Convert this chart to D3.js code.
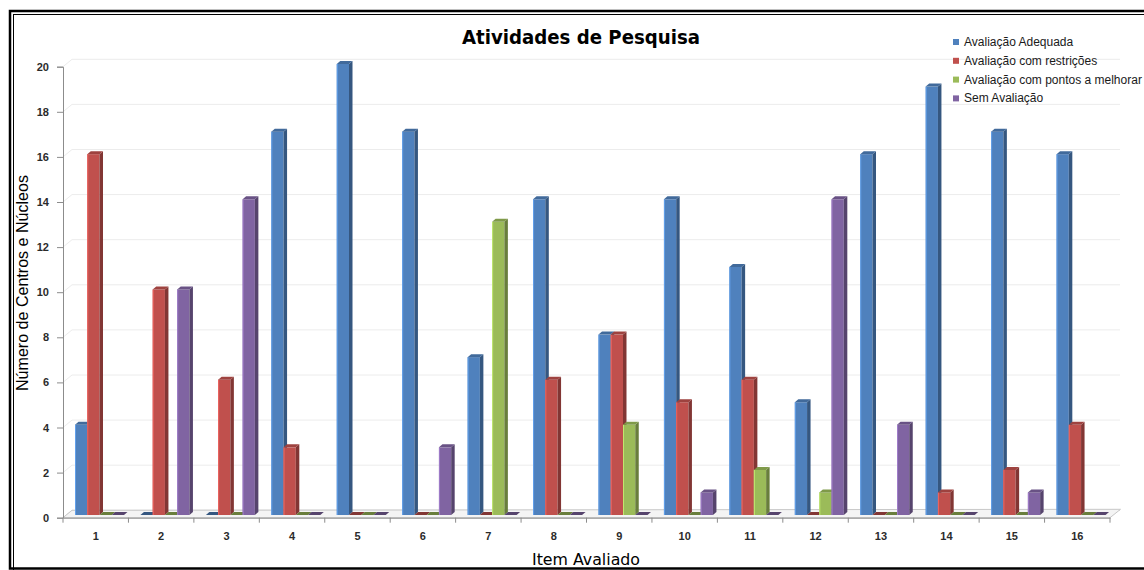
<!DOCTYPE html>
<html>
<head>
<meta charset="utf-8">
<script src="https://cdn.jsdelivr.net/npm/d3@7"></script>
<style>
  html, body { margin: 0; padding: 0; background: #fff; }
  svg { display: block; }
</style>
</head>
<body>
<svg id="chart" width="1144" height="570"></svg>
<script>
// ---- Data ----
const categories = ["1","2","3","4","5","6","7","8","9","10","11","12","13","14","15","16"];
const seriesNames = ["Avaliação Adequada", "Avaliação com restrições", "Avaliação com pontos a melhorar", "Sem Avaliação"];
const adequada   = [4, 0, 0, 17, 20, 17, 7, 14, 8, 14, 11, 5, 16, 19, 17, 16];
const restricoes = [16, 10, 6, 3, 0, 0, 0, 6, 8, 5, 6, 0, 0, 1, 2, 4];
const pontos     = [0, 0, 0, 0, 0, 0, 13, 0, 4, 0, 2, 1, 0, 0, 0, 0];
const semAval    = [0, 10, 14, 0, 0, 3, 0, 0, 0, 1, 0, 14, 4, 0, 1, 0];
const yTicks = [0, 2, 4, 6, 8, 10, 12, 14, 16, 18, 20];
const seriesColors = ["#4F81BD", "#C0504D", "#9BBB59", "#8064A2"];

const seriesValues = [adequada, restricoes, pontos, semAval];

const svg = d3.select("#chart");

// ---- Frame (double border) ----
svg.append("rect").attr("x", 10).attr("y", 11).attr("width", 1200).attr("height", 557.5)
  .attr("fill", "#fff").attr("stroke", "#000").attr("stroke-width", 2.5);
svg.append("rect").attr("x", 13.5).attr("y", 14.5).attr("width", 1200).attr("height", 600)
  .attr("fill", "none").attr("stroke", "#000").attr("stroke-width", 1);

// ---- Scales ----
const x = d3.scaleBand().domain(categories).range([63, 1110]).paddingInner(0).paddingOuter(0);
const xs = d3.scaleBand().domain(d3.range(4)).range([12, 61]).padding(0);
const y = d3.scaleLinear().domain([0, 20]).range([517.7, 66.7]);

const wallDX = 9, wallDY = -7.4;   // back wall offset
const barDX = 3.5, barDY = -3;      // bar depth
const barShiftY = -2.7;             // bars sit slightly back on the floor

// ---- Back wall gridlines ----
const grid = svg.append("g");
yTicks.forEach(v => {
  const yy = y(v);
  grid.append("path")
    .attr("d", `M63,${yy}L${63 + wallDX},${yy + wallDY}L1120,${yy + wallDY}`)
    .attr("fill", "none").attr("stroke", v === 0 ? "#d9d9d9" : "#ececec").attr("stroke-width", 1);
});

// ---- Floor ----
const y0 = y(0);
svg.append("path")
  .attr("d", `M63,${y0}L1110,${y0}L${1110 + wallDX + 1.5},${y0 + wallDY - 1}L${63 + wallDX},${y0 + wallDY}Z`)
  .attr("fill", "#f4f4f4").attr("stroke", "#c8c8c8").attr("stroke-width", 1);

// ---- Y axis ----
const yAxis = d3.axisLeft(y).tickValues(yTicks).tickSize(6).tickPadding(8).tickFormat(d3.format("d"));
const gy = svg.append("g").attr("transform", "translate(63,0)").call(yAxis);
gy.select(".domain").attr("stroke", "#8c8c8c");
gy.selectAll(".tick line").attr("stroke", "#8c8c8c");
gy.selectAll(".tick text").attr("font-family", "Liberation Sans, Arial, sans-serif")
  .attr("font-size", 11).attr("fill", "#2b2b2b").attr("font-weight", "bold");

// ---- X axis ----
const xAxis = d3.axisBottom(x).tickSize(0).tickPadding(15);
const gx = svg.append("g").attr("transform", `translate(0,${y0})`).call(xAxis);
gx.select(".domain").attr("stroke", "#8c8c8c");
gx.selectAll(".tick text").attr("font-family", "Liberation Sans, Arial, sans-serif")
  .attr("font-size", 11).attr("fill", "#2b2b2b").attr("font-weight", "bold");
const bounds = categories.map(c => x(c)).concat([x.range()[1]]);
svg.append("g").selectAll("line").data(bounds).join("line")
  .attr("x1", d => d).attr("x2", d => d).attr("y1", y0).attr("y2", y0 + 5)
  .attr("stroke", "#8c8c8c");

// ---- Bars ----
const bars = svg.append("g");
categories.forEach((c, ci) => {
  seriesValues.forEach((vals, si) => {
    const v = vals[ci];
    const col = d3.color(seriesColors[si]);
    const side = col.darker(1.1).formatHex();
    const top = col.darker(0.55).formatHex();
    const bx = x(c) + xs(si);
    const w = xs.bandwidth();
    const yb = y(0) + barShiftY;
    const yt = y(v) + barShiftY;
    const g = bars.append("g");
    if (v > 0) {
      g.append("rect").attr("x", bx).attr("y", yt).attr("width", w).attr("height", yb - yt)
        .attr("fill", col.formatHex());
      g.append("rect").attr("x", bx).attr("y", yt).attr("width", 1).attr("height", yb - yt)
        .attr("fill", col.brighter(0.6).formatHex());
      g.append("path")
        .attr("d", `M${bx + w},${yt}L${bx + w + barDX},${yt + barDY}L${bx + w + barDX},${yb + barDY}L${bx + w},${yb}Z`)
        .attr("fill", side);
    }
    g.append("path")
      .attr("d", `M${bx},${yt}L${bx + barDX},${yt + barDY}L${bx + w + barDX},${yt + barDY}L${bx + w},${yt}Z`)
      .attr("fill", v > 0 ? top : side);
  });
});

// ---- Title ----
svg.append("text").attr("x", 581).attr("y", 43.5).attr("text-anchor", "middle")
  .attr("font-family", "Comic Sans MS, DejaVu Sans, sans-serif").attr("font-weight", "bold")
  .attr("font-size", 20).attr("fill", "#000")
  .attr("textLength", 238).attr("lengthAdjust", "spacingAndGlyphs")
  .text("Atividades de Pesquisa");

// ---- Axis titles ----
svg.append("text").attr("transform", "translate(28,283) rotate(-90)").attr("text-anchor", "middle")
  .attr("font-family", "Liberation Sans, Arial, sans-serif").attr("font-size", 17).attr("fill", "#000")
  .attr("textLength", 216).attr("lengthAdjust", "spacingAndGlyphs")
  .text("Número de Centros e Núcleos");

svg.append("text").attr("x", 586).attr("y", 565).attr("text-anchor", "middle")
  .attr("font-family", "Comic Sans MS, DejaVu Sans, sans-serif").attr("font-size", 16).attr("fill", "#000")
  .attr("textLength", 108).attr("lengthAdjust", "spacingAndGlyphs")
  .text("Item Avaliado");

// ---- Legend ----
const legend = svg.append("g");
seriesNames.forEach((name, i) => {
  const ly = 42 + i * 18.8;
  legend.append("rect").attr("x", 953).attr("y", ly - 3).attr("width", 6).attr("height", 6)
    .attr("fill", seriesColors[i]);
  legend.append("text").attr("x", 964).attr("y", ly + 4)
    .attr("font-family", "Liberation Sans, Arial, sans-serif").attr("font-size", 12).attr("fill", "#1a1a1a")
    .text(name);
});
</script>
</body>
</html>
